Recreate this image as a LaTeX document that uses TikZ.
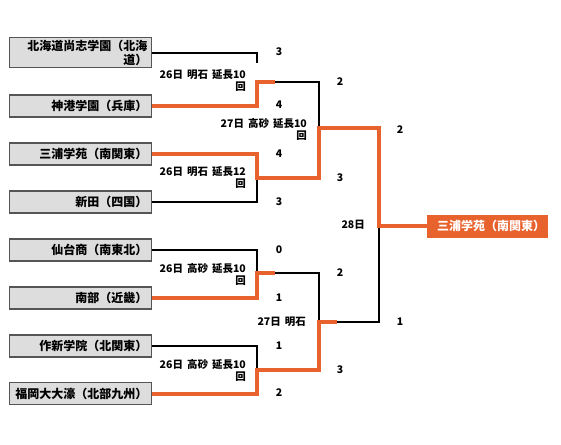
\documentclass[tikz,border=0pt]{standalone}
\usepackage{fontspec}
\setmainfont{Noto Sans CJK JP}
\usetikzlibrary{positioning}
\definecolor{winorange}{RGB}{232,98,45}
\definecolor{boxgray}{RGB}{221,221,221}
\definecolor{boxline}{RGB}{85,85,85}

\begin{document}
\begin{tikzpicture}[
  x=1pt, y=-1pt, font=\bfseries,
  team/.style={draw=boxline, line width=1.5pt, fill=boxgray, anchor=east, text width=134pt, align=right,
    inner xsep=4pt, inner ysep=2pt, minimum height=22pt, font=\fontsize{12}{14}\selectfont\bfseries},
  champ/.style={fill=winorange, text=white, text width=115pt, align=right, inner xsep=3pt,
    minimum height=23pt, font=\fontsize{12}{14}\selectfont\bfseries},
  score/.style={font=\fontsize{10.5}{12}\selectfont\bfseries},
  game/.style={anchor=east, align=right, inner sep=0pt, font=\fontsize{10.5}{12}\selectfont\bfseries},
  lose/.style={draw, line width=2pt},
  win/.style={draw=winorange, line width=4pt}
]
\useasboundingbox (0,0) rectangle (561,444);

\node[team] (t1) at (152,52.5) {北海道尚志学園（北海\\道）};
\node[team] (t2) at (152,106) {神港学園（兵庫）};
\node[team] (t3) at (152,154) {三浦学苑（南関東）};
\node[team] (t4) at (152,202) {新田（四国）};
\node[team] (t5) at (152,250) {仙台商（南東北）};
\node[team] (t6) at (152,298) {南部（近畿）};
\node[team] (t7) at (152,346) {作新学院（北関東）};
\node[team] (t8) at (152,393.5) {福岡大大濠（北部九州）};

\node[champ] (champ) at (487.5,226) {三浦学苑（南関東）};

\coordinate (j1a) at (257,63);
\coordinate (j1) at (257,82);
\coordinate (j1o) at (275,82);
\coordinate (r1) at (319,82);
\coordinate (j2a) at (257,180);
\coordinate (j2) at (257,178);
\coordinate (r2) at (319,178);
\coordinate (q1) at (319,128);
\coordinate (f1) at (379,128);
\coordinate (fj) at (379,226);
\coordinate (j5a) at (257,271);
\coordinate (j5) at (257,273);
\coordinate (j5o) at (275,273);
\coordinate (r5) at (319,273);
\coordinate (j6a) at (257,368);
\coordinate (j6) at (257,370);
\coordinate (r6) at (319,370);
\coordinate (q2) at (319,322);
\coordinate (q2o) at (337,322);
\coordinate (f2) at (379,322);

\draw[lose] (t1.east) -| (j1a);
\draw[lose] (j1o) -- (r1) -- (q1);
\draw[lose] (t4.east) -| (j2a);
\draw[lose] (t5.east) -| (j5a);
\draw[lose] (j5o) -- (r5) -- (q2);
\draw[lose] (t7.east) -| (j6a);
\draw[lose] (q2o) -- (f2) -- (fj);

\draw[win] (t2.east) -| (j1) -- (j1o);
\draw[win] (t3.east) -| (j2) -- (r2) -- (q1) -- (f1) -- (fj) -- (champ.west);
\draw[win] (t6.east) -| (j5) -- (j5o);
\draw[win] (t8.east) -| (j6) -- (r6) -- (q2) -- (q2o);

\node[score] (s1) at (279,52) {3};
\node[score] (s2) at (279,105) {4};
\node[score] (s3) at (279,154) {4};
\node[score] (s4) at (279,202) {3};
\node[score] (s5) at (279,250) {0};
\node[score] (s6) at (279,298) {1};
\node[score] (s7) at (279,346) {1};
\node[score] (s8) at (279,393) {2};
\node[score] (s9) at (340,82) {2};
\node[score] (s10) at (340,178) {3};
\node[score] (s11) at (340,273) {2};
\node[score] (s12) at (340,370) {3};
\node[score] (s13) at (400,130) {2};
\node[score] (s14) at (400,322) {1};

\node[game] (g1) at (246,81) {26日\hspace{4pt}明石\hspace{4pt}延長10\\回};
\node[game] (g2) at (246,177.5) {26日\hspace{4pt}明石\hspace{4pt}延長12\\回};
\node[game] (g3) at (246,274) {26日\hspace{4pt}高砂\hspace{4pt}延長10\\回};
\node[game] (g4) at (246,370) {26日\hspace{4pt}高砂\hspace{4pt}延長10\\回};
\node[game] (g5) at (307,129) {27日\hspace{4pt}高砂\hspace{4pt}延長10\\回};
\node[game] (g6) at (306,322) {27日\hspace{4pt}明石};
\node[game] (g7) at (365,225) {28日};

\end{tikzpicture}
\end{document}
